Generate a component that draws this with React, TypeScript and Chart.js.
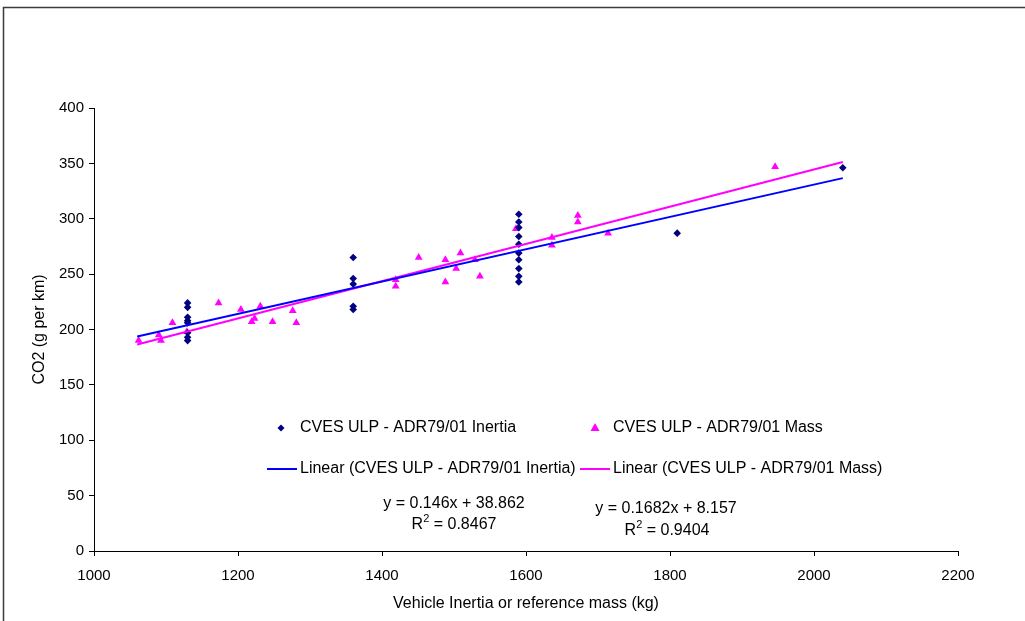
import React, { useEffect, useRef } from "react";
import { Chart, registerables } from "chart.js";

Chart.register(...registerables);

const inertiaLabel = "CVES ULP - ADR79/01 Inertia";
const massLabel = "CVES ULP - ADR79/01 Mass";

const inertiaX = [1130, 1130, 1130, 1130, 1130, 1130, 1130, 1130, 1360, 1360, 1360, 1360, 1360, 1590, 1590, 1590, 1590, 1590, 1590, 1590, 1590, 1590, 1590, 1810, 2040];
const inertiaY = [224, 220, 211, 208, 206, 197, 193, 190, 265, 246, 241, 221, 218, 304, 297, 292, 284, 277, 269, 263, 255, 248, 243, 287, 346];

const massX = [1062, 1090, 1093, 1109, 1129, 1173, 1204, 1219, 1223, 1231, 1248, 1276, 1281, 1419, 1419, 1451, 1488, 1488, 1503, 1509, 1529, 1536, 1586, 1636, 1636, 1672, 1672, 1714, 1946];
const massY = [190, 195, 190, 206, 198, 224, 218, 207, 210, 221, 207, 217, 206, 245, 239, 265, 263, 243, 255, 269, 263, 248, 291, 283, 276, 303, 297, 287, 347];

// Trendline equations (as printed on the chart)
const inertiaTrend = [0.146, 38.862];
const massTrend = [0.1682, 8.157];
const trendRange = [1060, 2040];
const inertiaR2 = "0.8467";
const massR2 = "0.9404";

const xTicks = [1000, 1200, 1400, 1600, 1800, 2000, 2200];
const yTicks = [0, 50, 100, 150, 200, 250, 300, 350, 400];

const FONT = '"Liberation Sans", Arial, sans-serif';
const NAVY = "#000080";
const MAGENTA = "#FF00FF";
const BLUE = "#0000FF";

function drawDiamond(ctx: CanvasRenderingContext2D, x: number, y: number, r: number, c: string) {
  ctx.beginPath();
  ctx.moveTo(x, y - r);
  ctx.lineTo(x + r, y);
  ctx.lineTo(x, y + r);
  ctx.lineTo(x - r, y);
  ctx.closePath();
  ctx.fillStyle = c;
  ctx.fill();
}
function drawTri(ctx: CanvasRenderingContext2D, x: number, y: number, r: number, c: string) {
  ctx.beginPath();
  ctx.moveTo(x, y - r);
  ctx.lineTo(x + r * 0.9, y + r * 0.6);
  ctx.lineTo(x - r * 0.9, y + r * 0.6);
  ctx.closePath();
  ctx.fillStyle = c;
  ctx.fill();
}
function drawR2(ctx: CanvasRenderingContext2D, cx: number, y: number, val: string) {
  const big = `16px ${FONT}`;
  const small = `11px ${FONT}`;
  ctx.font = big;
  const wR = ctx.measureText("R").width;
  const rest = " = " + val;
  const wRest = ctx.measureText(rest).width;
  ctx.font = small;
  const w2 = ctx.measureText("2").width;
  const total = wR + w2 + wRest;
  let x = cx - total / 2;
  ctx.textAlign = "left";
  ctx.font = big;
  ctx.fillText("R", x, y);
  x += wR;
  ctx.font = small;
  ctx.fillText("2", x, y - 6);
  x += w2;
  ctx.font = big;
  ctx.fillText(rest, x, y);
}

const overlayPlugin = {
  id: "overlay",
  afterDraw(chart: any) {
    const ctx: CanvasRenderingContext2D = chart.ctx;
    ctx.save();
    // outer frame
    ctx.strokeStyle = "#3a3a3a";
    ctx.lineWidth = 1.5;
    ctx.beginPath();
    ctx.moveTo(3.5, 621);
    ctx.lineTo(3.5, 7.5);
    ctx.lineTo(1025, 7.5);
    ctx.stroke();

    // legend
    ctx.textBaseline = "middle";
    ctx.textAlign = "left";
    ctx.font = `16px ${FONT}`;
    const c1 = 300;
    const c2 = 613;
    drawDiamond(ctx, 281, 428, 3.5, NAVY);
    ctx.fillStyle = "#000";
    ctx.fillText(inertiaLabel, c1, 428);
    drawTri(ctx, 595, 428, 5, MAGENTA);
    ctx.fillStyle = "#000";
    ctx.fillText(massLabel, c2, 428);

    ctx.lineWidth = 2;
    ctx.strokeStyle = BLUE;
    ctx.beginPath();
    ctx.moveTo(267, 469);
    ctx.lineTo(297, 469);
    ctx.stroke();
    ctx.fillText(`Linear (${inertiaLabel})`, c1, 469);
    ctx.strokeStyle = MAGENTA;
    ctx.beginPath();
    ctx.moveTo(580, 469);
    ctx.lineTo(610, 469);
    ctx.stroke();
    ctx.fillText(`Linear (${massLabel})`, c2, 469);

    // equations
    ctx.textAlign = "center";
    ctx.fillText(`y = ${inertiaTrend[0]}x + ${inertiaTrend[1]}`, 454, 504);
    drawR2(ctx, 454, 525, inertiaR2);
    ctx.textAlign = "center";
    ctx.fillText(`y = ${massTrend[0]}x + ${massTrend[1]}`, 666, 509);
    drawR2(ctx, 667, 531, massR2);
    ctx.restore();
  },
};

export default function App() {
  const ref = useRef<HTMLCanvasElement | null>(null);
  useEffect(() => {
    if (!ref.current) return;
    const trend = (c: number[]) => trendRange.map((x) => ({ x, y: c[0] * x + c[1] }));
    const chart = new Chart(ref.current, {
      type: "scatter",
      data: {
        datasets: [
          {
            label: `Linear (${inertiaLabel})`,
            data: trend(inertiaTrend),
            showLine: true,
            borderColor: BLUE,
            borderWidth: 2,
            pointRadius: 0,
            order: 0,
          },
          {
            label: `Linear (${massLabel})`,
            data: trend(massTrend),
            showLine: true,
            borderColor: MAGENTA,
            borderWidth: 2,
            pointRadius: 0,
            order: 0,
          },
          {
            label: inertiaLabel,
            data: inertiaX.map((x, i) => ({ x, y: inertiaY[i] })),
            pointStyle: "rectRot",
            pointRadius: 3.8,
            backgroundColor: NAVY,
            borderColor: NAVY,
            borderWidth: 0,
            order: 1,
          },
          {
            label: massLabel,
            data: massX.map((x, i) => ({ x, y: massY[i] })),
            pointStyle: "triangle",
            pointRadius: 4.5,
            backgroundColor: MAGENTA,
            borderColor: MAGENTA,
            borderWidth: 0,
            order: 1,
          },
        ],
      },
      options: {
        animation: false,
        responsive: false,
        events: [],
        layout: { padding: { left: 30, top: 108, right: 67, bottom: 0 } },
        plugins: { legend: { display: false }, tooltip: { enabled: false } },
        scales: {
          x: {
            type: "linear",
            min: xTicks[0],
            max: xTicks[xTicks.length - 1],
            afterBuildTicks: (s: any) => {
              s.ticks = xTicks.map((v) => ({ value: v }));
            },
            afterFit: (s: any) => {
              s.height = 70;
            },
            ticks: {
              color: "#000",
              font: { family: FONT, size: 15 },
              padding: 11,
              maxRotation: 0,
              callback: (v: any) => String(v),
            },
            grid: { drawOnChartArea: false, drawTicks: true, tickLength: 5, color: "#000" },
            border: { display: true, color: "#000", width: 1 },
            title: {
              display: true,
              text: "Vehicle Inertia or reference mass (kg)",
              color: "#000",
              font: { family: FONT, size: 16 },
              padding: { top: 0, bottom: 8 },
            },
          },
          y: {
            type: "linear",
            min: yTicks[0],
            max: yTicks[yTicks.length - 1],
            afterBuildTicks: (s: any) => {
              s.ticks = yTicks.map((v) => ({ value: v }));
            },
            afterFit: (s: any) => {
              s.width = 64;
            },
            ticks: {
              color: "#000",
              font: { family: FONT, size: 15 },
              padding: 5,
              callback: (v: any) => String(v),
            },
            grid: { drawOnChartArea: false, drawTicks: true, tickLength: 5, color: "#000" },
            border: { display: true, color: "#000", width: 1 },
            title: {
              display: true,
              text: "CO2 (g per km)",
              color: "#000",
              font: { family: FONT, size: 16 },
              padding: { top: 0, bottom: 0 },
            },
          },
        },
      },
      plugins: [overlayPlugin],
    } as any);
    return () => chart.destroy();
  }, []);
  return (
    <div style={{ position: "fixed", left: 0, top: 0, width: 1025, height: 621, background: "#fff" }}>
      <canvas ref={ref} width={1025} height={621} style={{ display: "block" }} />
    </div>
  );
}
